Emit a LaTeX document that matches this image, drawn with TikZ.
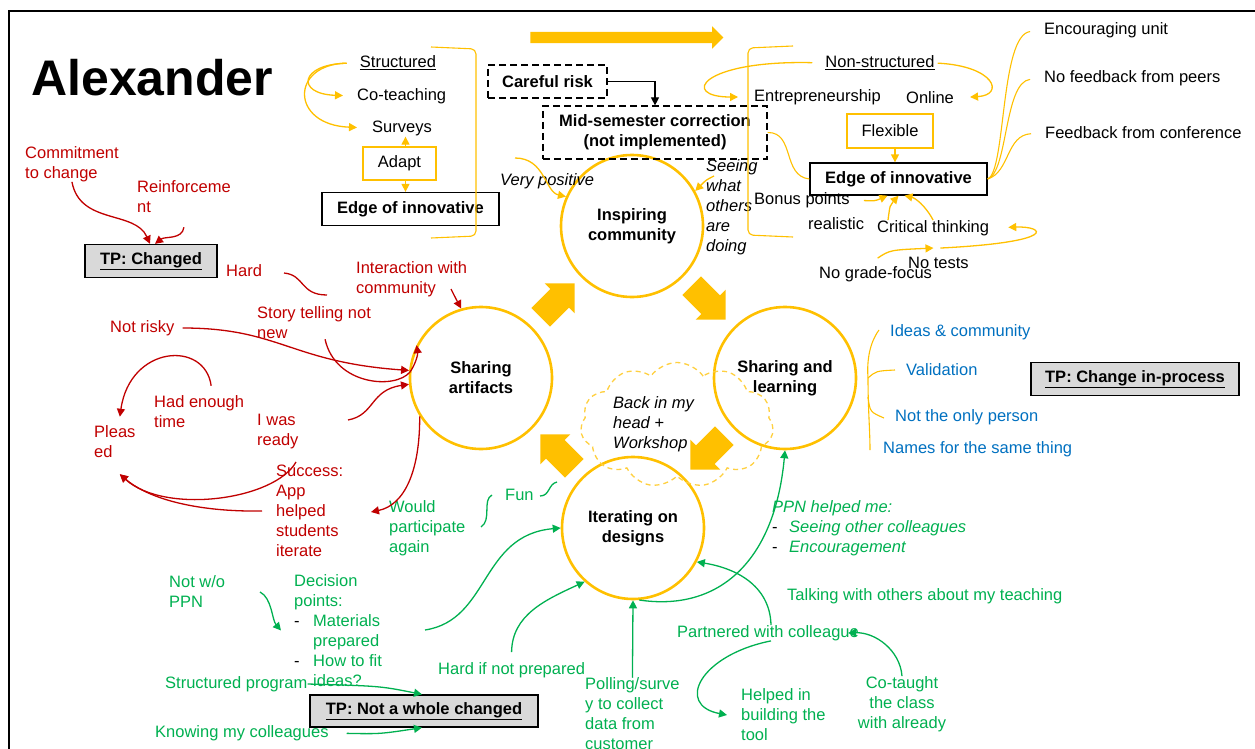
\documentclass[tikz,border=0pt]{standalone}
\usepackage{fontspec}
\setmainfont{Liberation Sans}
\usetikzlibrary{arrows.meta,shapes.arrows,shapes.symbols}
\definecolor{yel}{HTML}{FFC000}
\definecolor{rd}{HTML}{C00000}
\definecolor{gr}{HTML}{00B050}
\definecolor{bl}{HTML}{0070C0}
\definecolor{tpgray}{HTML}{D9D9D9}
\newcommand{\txtsize}{\fontsize{16.5pt}{20pt}\selectfont}

\begin{document}
\begin{tikzpicture}[x=1pt, y=-1pt,
	txt/.style={inner sep=0pt, anchor=west, align=left, font=\txtsize},
	rt/.style={txt, text=rd},
	gt/.style={txt, text=gr},
	bt/.style={txt, text=bl},
	it/.style={txt, font=\txtsize\itshape},
	hub/.style={circle, draw=yel, line width=2.6pt, minimum size=142pt, inner sep=0pt, align=center, font=\txtsize\bfseries},
	ybox/.style={draw=yel, line width=1.4pt, font=\txtsize, minimum height=33pt},
	kbox/.style={draw, line width=1.3pt, font=\txtsize\bfseries, minimum height=33pt},
	dbox/.style={draw, dash pattern=on 7pt off 4pt, line width=1.2pt, font=\txtsize\bfseries, align=center},
	tpbox/.style={draw, fill=tpgray, line width=1.3pt, font=\txtsize\bfseries, minimum height=33pt},
	blk/.style={single arrow, fill=yel, inner sep=13pt, minimum height=48pt, single arrow head extend=8pt},
	ya/.style={draw=yel, line width=1.3pt, -{Triangle[length=8pt,width=8pt]}},
	yl/.style={draw=yel, line width=1.1pt},
	ra/.style={draw=rd, line width=1.3pt, -{Triangle[length=8pt,width=8pt]}},
	rl/.style={draw=rd, line width=1.3pt},
	ga/.style={draw=gr, line width=1.3pt, -{Triangle[length=8pt,width=8pt]}},
	gl/.style={draw=gr, line width=1.3pt}]
	\useasboundingbox (0,0) rectangle (1255,749);
	\draw[line width=1.6pt] (9,760) -- (9,11) -- (1265,11);
	\node[txt, font=\fontsize{50pt}{60pt}\selectfont\bfseries] (title) at (31,78) {Alexander};
	\node[single arrow, fill=yel, inner sep=5.5pt, minimum height=193pt, single arrow head extend=5.5pt] (topArrow) at (624,37.5) {};

	\node[hub] (ic) at (632,226) {Inspiring\\community};
	\node[hub] (sa) at (481,378) {Sharing\\artifacts};
	\node[hub] (sl) at (785,378) {Sharing and\\learning};
	\node[hub] (id) at (633,528) {Iterating on\\designs};
	\node[cloud, cloud puffs=11, cloud puff arc=110, aspect=1.5, draw=yel!75, dash pattern=on 5pt off 4pt, line width=1.3pt, minimum width=193pt, minimum height=125pt] (cloud) at (677,425) {};
	\node[it] (backhead) at (613,424) {Back in my\\head +\\Workshop};
	\node[blk, rotate=45] (a1) at (553,305) {};
	\node[blk, rotate=-45] (a2) at (704,298) {};
	\node[blk, rotate=-135] (a3) at (712,448) {};
	\node[blk, rotate=135] (a4) at (562,456) {};

	\node[txt, anchor=center] (struct) at (398,63) {\underline{Structured}};
	\node[txt] (coteach) at (357,96) {Co-teaching};
	\node[txt] (surveys) at (372,128) {Surveys};
	\node[ybox, minimum width=73pt] (adapt) at (399.5,163.5) {Adapt};
	\node[kbox, minimum width=177pt] (edgeL) at (410.5,209) {Edge of innovative};
	\draw[yl, rounded corners=5pt] (431,47) -- (476,49) -- (476,236) -- (431,238);
	\draw[ya, shorten <=13pt, shorten >=14pt] (struct.west) .. controls (300,64) and (295,94) .. (coteach.west);
	\draw[ya, shorten <=13pt, shorten >=15pt] (struct.west) .. controls (290,64) and (290,125) .. (surveys.west);
	\draw[ya, shorten >=1pt] ([xshift=6pt]adapt.north) -- ([xshift=6pt]adapt.north |- surveys.south);
	\draw[ya] ([xshift=6pt]adapt.south) -- ([xshift=6pt]adapt.south |- edgeL.north);

	\node[dbox, minimum width=119pt, minimum height=33pt] (careful) at (547.5,81.5) {Careful risk};
	\node[dbox, minimum width=224pt, minimum height=53pt] (midsem) at (655,132.5) {Mid-semester correction\\(not implemented)};
	\draw[line width=1.2pt, -{Triangle[length=8pt,width=8pt]}] (careful.east) -| (midsem.north);
	\node[it] (verypos) at (500,181) {Very positive};
	\coordinate (vp0) at (515,158);
	\draw[ya] (vp0) .. controls (545,158) and (545,192) .. (ic.156);
	\node[it] (seeing) at (706,207) {Seeing\\what\\others\\are\\doing};
	\coordinate (sw0) at (714,176);
	\draw[ya] (sw0) .. controls (706,180) .. (ic.29);

	\draw[yl, rounded corners=5pt] (793,46) -- (748,48) -- (748,235) -- (793,237);
	\node[txt, anchor=center] (nonstruct) at (880,63) {\underline{Non-structured}};
	\node[txt] (entre) at (754,97) {Entrepreneurship};
	\node[txt] (online) at (906,98) {Online};
	\node[ybox, minimum width=86pt, minimum height=34pt] (flexible) at (890,131) {Flexible};
	\node[kbox, minimum width=177pt, minimum height=32pt] (edgeR) at (898.5,179) {Edge of innovative};
	\draw[ya, shorten <=13pt, shorten >=16pt] (nonstruct.west) .. controls (700,60) and (680,97) .. (entre.west);
	\draw[ya, shorten <=3pt, shorten >=16pt] (nonstruct.east) .. controls (995,66) and (1005,95) .. (online.east);
	\draw[ya] ([xshift=5pt]flexible.south) -- ([xshift=5pt]flexible.south |- edgeR.north);
	\draw[yl] (midsem.east) .. controls (795,132) and (782,176) .. (edgeR.west);
	\node[txt] (encour) at (1044,30) {Encouraging unit};
	\node[txt] (nofeed) at (1044,78) {No feedback from peers};
	\node[txt] (feedconf) at (1045,133) {Feedback from conference};
	\draw[yl, shorten >=14pt] (edgeR.east) .. controls (1006,172) and (1000,35) .. (encour.west);
	\draw[yl, shorten >=14pt] (edgeR.east) .. controls (1008,172) and (1004,82) .. (nofeed.west);
	\draw[yl, shorten >=14pt] (edgeR.east) .. controls (1010,172) and (1006,135) .. (feedconf.west);
	\node[txt] (bonus) at (754,200) {Bonus points};
	\node[txt] (realistic) at (808,224) {realistic};
	\node[txt] (critical) at (877,228) {Critical thinking};
	\node[txt] (nograde) at (819,274) {No grade-focus};
	\node[txt] (notests) at (908,263) {No tests};
	\draw[ya, shorten <=14pt] (bonus.east) .. controls (875,201) .. ([xshift=-11pt]edgeR.south);
	\draw[ya] ([xshift=11pt]critical.north west) .. controls (890,205) .. (edgeR.south);
	\draw[ya] (critical.north) .. controls (925,205) and (915,198) .. ([xshift=6pt]edgeR.south);
	\draw[ya] ([xshift=2pt,yshift=8pt]nograde.north) .. controls (890,250) .. ([xshift=-5pt,yshift=9pt]notests.north);
	\draw[ya, shorten >=19pt] ([xshift=2pt,yshift=9pt]notests.north) .. controls (1060,242) and (1045,226) .. (critical.east);

	\node[tpbox, minimum width=132pt] (tpchanged) at (151,261) {\underline{TP: Changed}};
	\node[rt] (commit) at (25,164) {Commitment\\to change};
	\node[rt] (reinf) at (137,197) {Reinforceme\\nt};
	\draw[ra] (commit.south) .. controls (80,225) and (135,210) .. ([xshift=-1pt]tpchanged.north);
	\draw[ra] ([yshift=-14pt]reinf.south) .. controls (182,240) and (165,236) .. ([xshift=4pt]tpchanged.north);
	\node[rt] (hard) at (226,271) {Hard};
	\coordinate (hd0) at (284,273);
	\coordinate (hd1) at (327,295);
	\draw[rl] (hd0) .. controls (305,275) and (300,295) .. (hd1);
	\node[rt] (interact) at (356,279) {Interaction with\\community};
	\coordinate (ia0) at (451,289);
	\draw[ra] (ia0) .. controls (455,297) .. (sa.106);
	\node[rt] (story) at (257,323) {Story telling not\\new};
	\node[rt] (notrisky) at (110,328) {Not risky};
	\draw[ra, shorten <=8pt] (notrisky.east) .. controls (280,328) and (290,362) .. (sa.174);
	\draw[ra] ([xshift=11pt]story.south) .. controls (335,385) and (395,390) .. (410,372) .. controls (415,365) and (418,355) .. (sa.153);
	\node[rt] (ready) at (257,432) {I was\\ready};
	\coordinate (rd0) at (348,420);
	\draw[ra] (rd0) .. controls (375,415) and (370,390) .. (sa.185);
	\node[rt] (enough) at (154,412) {Had enough\\time};
	\node[rt] (pleased) at (94,442) {Pleas\\ed};
	\draw[ra] ([xshift=12pt,yshift=10pt]enough.north) .. controls (205,340) and (130,345) .. ([xshift=5pt,yshift=9pt]pleased.north);
	\node[rt] (success) at (276,511) {Success:\\App\\helped\\students\\iterate};
	\draw[ra] ([xshift=20pt,yshift=3pt]success.north west) .. controls (275,500) and (165,515) .. ([xshift=5pt,yshift=-16pt]pleased.south);
	\draw[ra] ([xshift=-14pt]success.west) .. controls (200,512) and (150,500) .. ([xshift=5pt,yshift=-16pt]pleased.south);
	\node[gt] (would) at (389,528) {Would\\participate\\again};
	\draw[ra] (sa.212) .. controls (420,470) and (405,505) .. ([xshift=-18pt,yshift=16pt]would.west);

	\node[gt] (fun) at (505,495) {Fun};
	\coordinate (fn0) at (481,527);
	\coordinate (fn1) at (492,495);
	\draw[gl] (fn0) .. controls (492,520) and (482,500) .. (fn1);
	\coordinate (fn2) at (540,496);
	\coordinate (fn3) at (557,482);
	\draw[gl] (fn2) .. controls (550,496) and (548,484) .. (fn3);
	\node[gt] (notwo) at (169,592) {Not w/o\\PPN};
	\node[gt] (decision) at (294,630.5) {Decision\\points:\\\makebox[19pt][l]{\color{black}-}Materials\\\hspace*{19pt}prepared\\\makebox[19pt][l]{\color{black}-}How to fit\\\hspace*{19pt}ideas?};
	\coordinate (nw0) at (260,592);
	\draw[ga] (nw0) .. controls (272,598) and (272,620) .. ([xshift=-13pt]decision.west);
	\coordinate (dp0) at (425,630);
	\draw[ga] (dp0) .. controls (490,620) and (480,535) .. (id.west);
	\node[gt] (structprog) at (165,684) {Structured program};
	\node[tpbox, minimum width=228pt, minimum height=32pt] (tpnot) at (424,711) {\underline{TP: Not a whole changed}};
	\node[gt] (knowing) at (155,733) {Knowing my colleagues};
	\draw[ga] (structprog.east) .. controls (380,686) .. ([xshift=-2pt]tpnot.north);
	\draw[ga, shorten <=18pt] (knowing.east) .. controls (380,734) .. ([xshift=-2pt]tpnot.south);
	\node[gt] (hardif) at (438,670) {Hard if not prepared};
	\draw[ga] ([yshift=10pt]hardif.north) .. controls (512,615) and (545,600) .. (id.228);
	\node[gt] (polling) at (585,714) {Polling/surve\\y to collect\\data from\\customer};
	\draw[ga] (polling.north) -- (id.south);
	\node[gt] (partnered) at (677,633) {Partnered with colleague};
	\draw[ga] ([xshift=3pt]partnered.north) .. controls (770,585) and (735,568) .. (id.-28);
	\draw[ga] (id.-85) .. controls (720,612) and (775,560) .. (sl.south);
	\node[gt] (helped) at (741,715) {Helped in\\building the\\tool};
	\draw[ga] ([xshift=3pt]partnered.south) .. controls (700,655) and (675,705) .. ([xshift=-14pt]helped.west);
	\node[gt, anchor=center, align=center] (cotaught) at (902,704) {Co-taught\\the class\\with already};
	\draw[ga] (cotaught.north) .. controls (900,650) and (875,632) .. ([xshift=-11pt]partnered.east);
	\node[gt, font=\txtsize\itshape] (ppn) at (772,528.5) {PPN helped me:\\\makebox[17pt][l]{\color{black}\upshape -}Seeing other colleagues\\\makebox[17pt][l]{\color{black}\upshape -}Encouragement};
	\node[gt] (talking) at (787,596) {Talking with others about my teaching};

	\node[bt] (ideas) at (890,332) {Ideas \& community};
	\node[bt] (valid) at (906,370) {Validation};
	\node[bt] (notonly) at (895,417) {Not the only person};
	\node[bt] (names) at (883,449) {Names for the same thing};
	\draw[yl] (879,330) .. controls (868,345) and (867,365) .. (868,378) .. controls (868,410) and (870,430) .. (870,450);
	\draw[yl] (868,378) .. controls (876,371) .. (895,370);
	\draw[yl] (868,397) .. controls (870,412) .. (884,418);
	\node[tpbox, minimum width=208pt] (tpproc) at (1135,379) {\underline{TP: Change in-process}};
\end{tikzpicture}
\end{document}
